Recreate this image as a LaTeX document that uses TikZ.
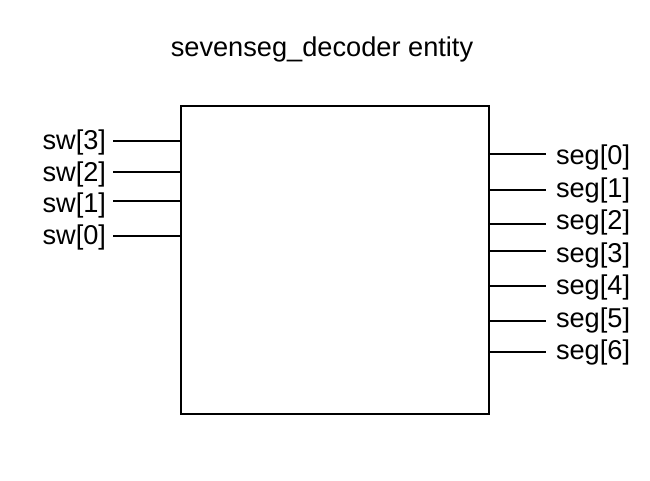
\documentclass[tikz,border=0pt]{standalone}
\usepackage{fontspec}
\setmainfont{Liberation Sans}
\begin{document}
\begin{tikzpicture}[x=1pt,y=-1pt,
  wire/.style={line width=2pt},
  lblfont/.style={font=\fontsize{27.2}{30}\selectfont},
  inlbl/.style={lblfont,anchor=east,inner xsep=0pt,inner ysep=0pt,outer xsep=7pt},
  outlbl/.style={lblfont,anchor=west,inner xsep=0pt,inner ysep=0pt,outer xsep=10pt},
  entitybox/.style={draw,line width=2pt,minimum width=308pt,minimum height=308pt,inner sep=0pt}]
\useasboundingbox (0,0) rectangle (650,481);
\node[lblfont] (title) at (322,49) {sevenseg\_decoder entity};
\node[entitybox] (box) at (335,260) {};
% inputs
\node[inlbl] (sw3) at (113,142) {sw[3]};
\node[inlbl] (sw2) at (113,174) {sw[2]};
\node[inlbl] (sw1) at (113,205) {sw[1]};
\node[inlbl] (sw0) at (113,237) {sw[0]};
\foreach \n/\y in {sw3/141,sw2/172,sw1/201,sw0/236}
  \draw[wire] (\n.east |- 0,\y) -- (box.west |- 0,\y);
% outputs
\node[outlbl] (s0) at (546,157) {seg[0]};
\node[outlbl] (s1) at (546,190) {seg[1]};
\node[outlbl] (s2) at (546,222) {seg[2]};
\node[outlbl] (s3) at (546,255) {seg[3]};
\node[outlbl] (s4) at (546,287) {seg[4]};
\node[outlbl] (s5) at (546,320) {seg[5]};
\node[outlbl] (s6) at (546,352) {seg[6]};
\foreach \n/\y in {s0/154,s1/190,s2/224,s3/251,s4/286,s5/321,s6/352}
  \draw[wire] (box.east |- 0,\y) -- (\n.west |- 0,\y);
\end{tikzpicture}
\end{document}
